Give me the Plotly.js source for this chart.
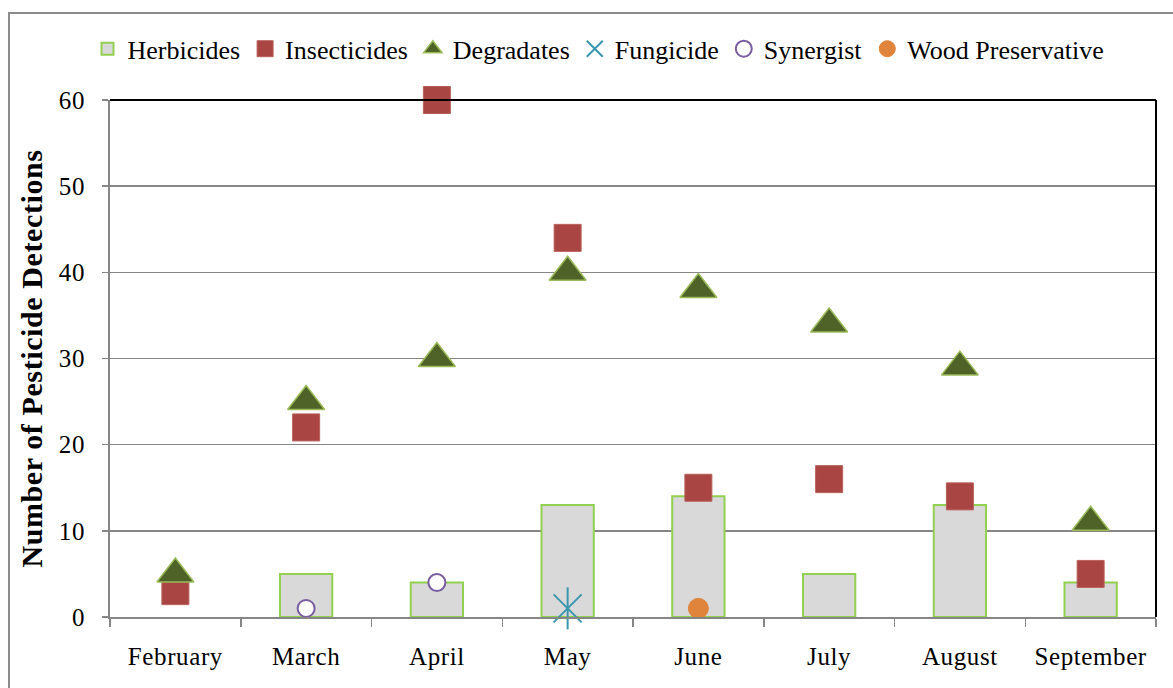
<!DOCTYPE html>
<html>
<head>
<meta charset="utf-8">
<script src="https://cdn.plot.ly/plotly-3.0.1.min.js"></script>
<style>
html,body{margin:0;padding:0;background:#fff;overflow:hidden;}
#chart{width:1173px;height:688px;}
#chart .xtick text, #chart .ytick text, #chart .ytitle{letter-spacing:0.6px;}
#frame{position:absolute;left:8px;top:12px;width:1200px;height:700px;border:2px solid #8c8c8c;pointer-events:none;box-sizing:border-box;}
</style>
</head>
<body>
<div id="chart"></div>
<div id="frame"></div>
<script>
const months = ["February","March","April","May","June","July","August","September"];
const herbicides = [null,5,4,13,14,5,13,4];
const insecticides = [3,22,60,44,15,16,14,5];
const degradates = [5,25,30,40,38,34,29,11];
const fungicideMonths = ["May"];
const fungicide = [1];
const synergistMonths = ["March","April"];
const synergist = [1,4];
const woodMonths = ["June"];
const woodPreservative = [1];
const yTicks = [0,10,20,30,40,50,60];

const serif = "Liberation Serif, Times New Roman, serif";

const traces = [
  {type:"bar", name:"Herbicides", x:months, y:herbicides, width:0.4,
   marker:{color:"#d9d9d9", line:{color:"#92d050", width:2}}},
  {type:"scatter", mode:"markers", name:"Insecticides", x:months, y:insecticides, cliponaxis:false,
   marker:{symbol:"square", size:27, color:"#a94542", line:{color:"#b9605c", width:1}}},
  {type:"scatter", mode:"markers", name:"Degradates", x:months, y:degradates, cliponaxis:false,
   marker:{symbol:"triangle-up", size:32, color:"#4f6228", line:{color:"#9bbb59", width:1.5}}},
  {type:"scatter", mode:"markers", name:"Fungicide", x:fungicideMonths, y:fungicide, cliponaxis:false,
   marker:{symbol:"x-thin-open", size:28, color:"#3a96ae", line:{color:"#3a96ae", width:2}}},
  {type:"scatter", mode:"markers", name:"Fungicide", showlegend:false, x:fungicideMonths, y:fungicide, cliponaxis:false,
   marker:{symbol:"line-ns-open", size:30, color:"#3a96ae", line:{color:"#3a96ae", width:2}}},
  {type:"scatter", mode:"markers", name:"Synergist", x:synergistMonths, y:synergist, cliponaxis:false,
   marker:{symbol:"circle", size:17, color:"#ffffff", line:{color:"#7a5ca0", width:2}}},
  {type:"scatter", mode:"markers", name:"Wood Preservative", x:woodMonths, y:woodPreservative, cliponaxis:false,
   marker:{symbol:"circle", size:20, color:"#df843a", line:{color:"#df843a", width:1}}}
];

const layout = {
  width:1173, height:688,
  margin:{l:110, r:17, t:100, b:71, pad:0},
  paper_bgcolor:"rgba(0,0,0,0)", plot_bgcolor:"#ffffff",
  font:{family:serif, color:"#000", size:25},
  showlegend:true,
  legend:{orientation:"h", x:0.467, xanchor:"center", y:1.099, yanchor:"middle",
          font:{family:serif, size:26, color:"#000"}, itemwidth:30, tracegroupgap:0,
          bgcolor:"rgba(0,0,0,0)"},
  xaxis:{type:"category", categoryorder:"array", categoryarray:months,
         range:[-0.5,7.5], showgrid:false, showline:true, linecolor:"#868686", linewidth:2,
         ticks:"outside", tickson:"boundaries", ticklen:8, tickcolor:"#868686", tickwidth:1.5,
         ticklabelstandoff:16,
         tickfont:{family:serif, size:25}, zeroline:false},
  yaxis:{range:[0,60], tickvals:yTicks, ticktext:yTicks.map(String),
         showgrid:true, gridcolor:"#868686", gridwidth:1.5, showline:true, linecolor:"#868686", linewidth:2,
         ticks:"outside", ticklen:6, tickcolor:"#868686", tickwidth:1.5, zeroline:false,
         ticklabelstandoff:12,
         tickfont:{family:serif, size:25},
         title:{text:"<b>Number of Pesticide Detections</b>", font:{family:serif, size:30}, standoff:9}},
  shapes:[
    {type:"line", xref:"paper", yref:"paper", x0:0, x1:1, y0:1, y1:1, line:{color:"#000", width:2}},
    {type:"line", xref:"paper", yref:"paper", x0:1, x1:1, y0:0, y1:1, line:{color:"#000", width:2}}
  ]
};

Plotly.newPlot("chart", traces, layout, {displayModeBar:false, staticPlot:true});
</script>
</body>
</html>
